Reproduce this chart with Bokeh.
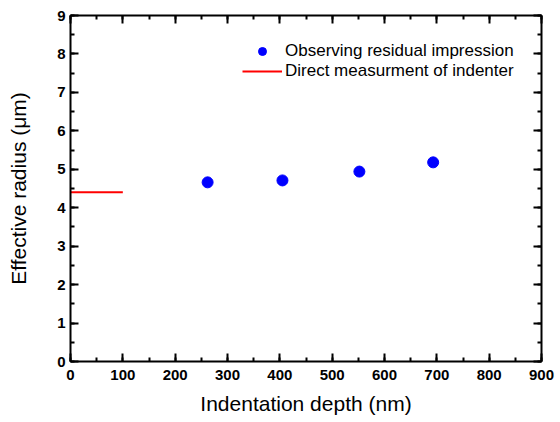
from bokeh.plotting import figure
from bokeh.models import (LinearAxis, Range1d, Legend, LegendItem, SingleIntervalTicker,
                          CustomJSTickFormatter)
from bokeh.embed import file_html
from bokeh.resources import INLINE

# data
depth_nm = [262, 405, 552, 693]
radius_um = [4.66, 4.71, 4.94, 5.18]
direct_x = [0, 100]
direct_y = [4.40, 4.40]
x_title = "Indentation depth (nm)"
y_title = "Effective radius (\u03bcm)"
legend_labels = ["Observing residual impression", "Direct measurment of indenter"]

FONT = "Liberation Sans"

p = figure(frame_width=471, frame_height=346, output_backend="svg", toolbar_location=None,
           x_range=Range1d(0, 900), y_range=Range1d(0, 9),
           min_border_left=70, min_border_right=19, min_border_top=15, min_border_bottom=61,
           x_axis_label=x_title, y_axis_label=y_title)
p.grid.visible = False
p.outline_line_color = None
p.background_fill_color = "white"
p.border_fill_color = "white"

r1 = p.scatter(depth_nm, radius_um, size=11, color="#0000ff", marker="circle")
r2 = p.line(direct_x, direct_y, line_color="#ff0000", line_width=2)

def style(ax, labels=True):
    ax.axis_line_width = 2
    ax.axis_line_color = "black"
    ax.major_tick_in = 8
    ax.major_tick_out = 0
    ax.minor_tick_in = 4
    ax.minor_tick_out = 0
    ax.major_tick_line_width = 2
    ax.minor_tick_line_width = 2
    ax.major_label_text_font = FONT
    ax.major_label_text_font_style = "bold"
    ax.major_label_text_font_size = "15px"
    ax.major_label_text_color = "black"
    ax.axis_label_text_font = FONT
    ax.axis_label_text_font_size = "21px"
    ax.axis_label_text_font_style = "normal"
    ax.axis_label_text_color = "black"
    if not labels:
        ax.formatter = CustomJSTickFormatter(code="return ''")
        ax.major_label_standoff = 0
        ax.axis_label_standoff = 0

for ax in p.xaxis:
    ax.ticker = SingleIntervalTicker(interval=100, num_minor_ticks=2)
    style(ax)
    ax.major_label_standoff = 8
    ax.axis_label_standoff = 9
for ax in p.yaxis:
    ax.ticker = SingleIntervalTicker(interval=1, num_minor_ticks=2)
    style(ax)
    ax.major_label_standoff = 5
    ax.axis_label_standoff = 24

top = LinearAxis(ticker=SingleIntervalTicker(interval=100, num_minor_ticks=2))
style(top, labels=False)
p.add_layout(top, "above")
right = LinearAxis(ticker=SingleIntervalTicker(interval=1, num_minor_ticks=2))
style(right, labels=False)
p.add_layout(right, "right")

legend = Legend(items=[LegendItem(label=legend_labels[0], renderers=[r1]),
                       LegendItem(label=legend_labels[1], renderers=[r2])],
                location=(172, 280))
legend.border_line_color = None
legend.background_fill_alpha = 0
legend.padding = 0
legend.margin = 0
legend.spacing = 0
legend.glyph_width = 40
legend.glyph_height = 20
legend.label_height = 20
legend.label_standoff = 3
legend.label_text_font = FONT
legend.label_text_font_size = "17px"
legend.label_text_color = "black"
p.add_layout(legend)

open("out.html", "w").write(file_html(p, INLINE))
